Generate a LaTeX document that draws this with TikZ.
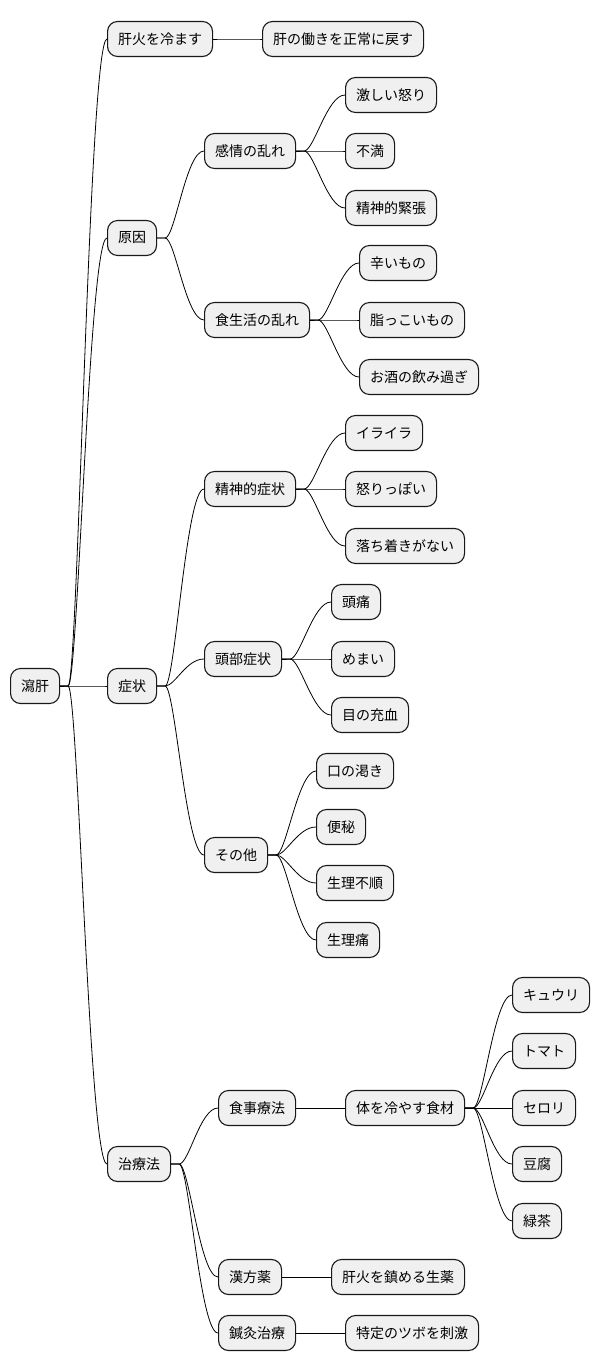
\documentclass[tikz,border=0pt]{standalone}
\usepackage{fontspec}
\setmainfont{Noto Sans CJK JP}
\usepackage{tikz}

\begin{document}
\begin{tikzpicture}[
  x=1pt, y=-1pt,
  font=\fontsize{14}{16}\selectfont,
  topic/.style={draw=black!90, line width=1.1pt, rounded corners=10pt, fill=black!6,
    anchor=west, minimum height=35pt, inner xsep=10.5pt, inner ysep=0pt},
  link/.style={line width=0.8pt, to path={(\tikztostart) -- ++(8,0) .. controls +(10,0) and +(-18,0) .. (\tikztotarget)}}
]
\useasboundingbox (0,0) rectangle (600,1372);

\node[topic] (root) at (10,686) {瀉肝};

\node[topic] (cool) at (107,39) {肝火を冷ます};
\node[topic] (normal) at (262,39) {肝の働きを正常に戻す};

\node[topic] (cause) at (107,238) {原因};
\node[topic] (emotion) at (204,151) {感情の乱れ};
\node[topic] (anger) at (345,95) {激しい怒り};
\node[topic] (discontent) at (345,151) {不満};
\node[topic] (tension) at (345,208) {精神的緊張};
\node[topic] (diet) at (204,320) {食生活の乱れ};
\node[topic] (spicy) at (359,263) {辛いもの};
\node[topic] (greasy) at (359,320) {脂っこいもの};
\node[topic] (alcohol) at (359,377) {お酒の飲み過ぎ};

\node[topic] (symptom) at (107,686) {症状};
\node[topic] (mental) at (204,489) {精神的症状};
\node[topic] (irritable) at (345,433) {イライラ};
\node[topic] (quick) at (345,489) {怒りっぽい};
\node[topic] (restless) at (345,546) {落ち着きがない};
\node[topic] (head) at (204,659) {頭部症状};
\node[topic] (headache) at (331,602) {頭痛};
\node[topic] (dizzy) at (331,659) {めまい};
\node[topic] (redeye) at (331,715) {目の充血};
\node[topic] (other) at (204,855) {その他};
\node[topic] (thirst) at (316,771) {口の渇き};
\node[topic] (constip) at (316,827) {便秘};
\node[topic] (irregular) at (316,883) {生理不順};
\node[topic] (cramps) at (316,940) {生理痛};

\node[topic] (therapy) at (107,1164) {治療法};
\node[topic] (food) at (218,1108) {食事療法};
\node[topic] (coolfood) at (345,1108) {体を冷やす食材};
\node[topic] (cucumber) at (512,995) {キュウリ};
\node[topic] (tomato) at (512,1051) {トマト};
\node[topic] (celery) at (512,1108) {セロリ};
\node[topic] (tofu) at (512,1164) {豆腐};
\node[topic] (greentea) at (512,1221) {緑茶};
\node[topic] (kampo) at (218,1277) {漢方薬};
\node[topic] (herbs) at (331,1277) {肝火を鎮める生薬};
\node[topic] (acupunct) at (218,1333) {鍼灸治療};
\node[topic] (points) at (345,1333) {特定のツボを刺激};

% root
\draw[link] (root.east) to (cool.west);
\draw[link] (root.east) to (cause.west);
\draw[link] (root.east) to (symptom.west);
\draw[link] (root.east) to (therapy.west);
\draw[link] (cool.east) to (normal.west);

% cause
\draw[link] (cause.east) to (emotion.west);
\draw[link] (cause.east) to (diet.west);
\draw[link] (emotion.east) to (anger.west);
\draw[link] (emotion.east) to (discontent.west);
\draw[link] (emotion.east) to (tension.west);
\draw[link] (diet.east) to (spicy.west);
\draw[link] (diet.east) to (greasy.west);
\draw[link] (diet.east) to (alcohol.west);

% symptom
\draw[link] (symptom.east) to (mental.west);
\draw[link] (symptom.east) to (head.west);
\draw[link] (symptom.east) to (other.west);
\draw[link] (mental.east) to (irritable.west);
\draw[link] (mental.east) to (quick.west);
\draw[link] (mental.east) to (restless.west);
\draw[link] (head.east) to (headache.west);
\draw[link] (head.east) to (dizzy.west);
\draw[link] (head.east) to (redeye.west);
\draw[link] (other.east) to (thirst.west);
\draw[link] (other.east) to (constip.west);
\draw[link] (other.east) to (irregular.west);
\draw[link] (other.east) to (cramps.west);

% therapy
\draw[link] (therapy.east) to (food.west);
\draw[link] (therapy.east) to (kampo.west);
\draw[link] (therapy.east) to (acupunct.west);
\draw[link] (food.east) to (coolfood.west);
\draw[link] (coolfood.east) to (cucumber.west);
\draw[link] (coolfood.east) to (tomato.west);
\draw[link] (coolfood.east) to (celery.west);
\draw[link] (coolfood.east) to (tofu.west);
\draw[link] (coolfood.east) to (greentea.west);
\draw[link] (kampo.east) to (herbs.west);
\draw[link] (acupunct.east) to (points.west);
\end{tikzpicture}
\end{document}
